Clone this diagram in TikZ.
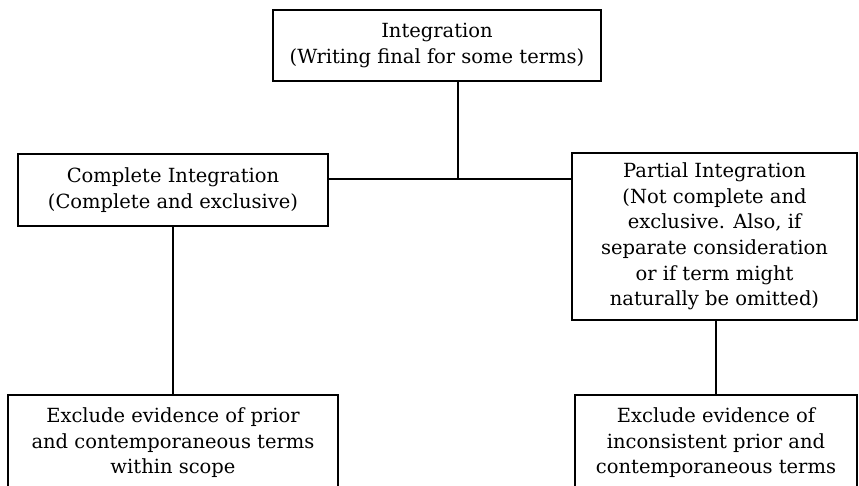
\documentclass[tikz,border=0pt]{standalone}
\usepackage{fontspec}
\setmainfont{DejaVu Serif}
\usepackage{tikz}
\usetikzlibrary{positioning,calc}

\begin{document}
\begin{tikzpicture}[x=1pt,y=-1pt,
  box/.style={draw,line width=1.5pt,align=center,inner sep=0pt,
    font=\fontsize{19.5}{25.7}\selectfont},
  link/.style={line width=1.5pt}]
  \useasboundingbox (0,0) rectangle (859,486);
  \clip (0,0) rectangle (859,486);
  % top of the tree
  \node[box,minimum width=328,minimum height=71] (intg) at (437,45.5)
    {Integration\\(Writing final for some terms)};
  \coordinate (jn) at (458,179);
  % middle row
  \node[box,minimum width=310,minimum height=72] (cmpl) at (173,190)
    {Complete Integration\\(Complete and exclusive)};
  \node[box,minimum width=285,minimum height=167] (prtl) at (714.5,236.5)
    {Partial Integration\\(Not complete and\\exclusive. Also, if\\separate consideration\\or if term might\\naturally be omitted)};
  % bottom row (cut off by the page edge)
  \node[box,anchor=north,minimum width=330,minimum height=96] (lexcl) at (173,394)
    {Exclude evidence of prior\\and contemporaneous terms\\within scope};
  \node[box,anchor=north,minimum width=282,minimum height=96] (rexcl) at (716,394)
    {Exclude evidence of\\inconsistent prior and\\contemporaneous terms};
  \draw[link] (intg.south -| jn) -- (jn);
  \draw[link] (cmpl.east |- jn) -- (prtl.west |- jn);
  \draw[link] (cmpl.south) -- (lexcl.north);
  \draw[link] (prtl.south -| rexcl.north) -- (rexcl.north);
\end{tikzpicture}
\end{document}
